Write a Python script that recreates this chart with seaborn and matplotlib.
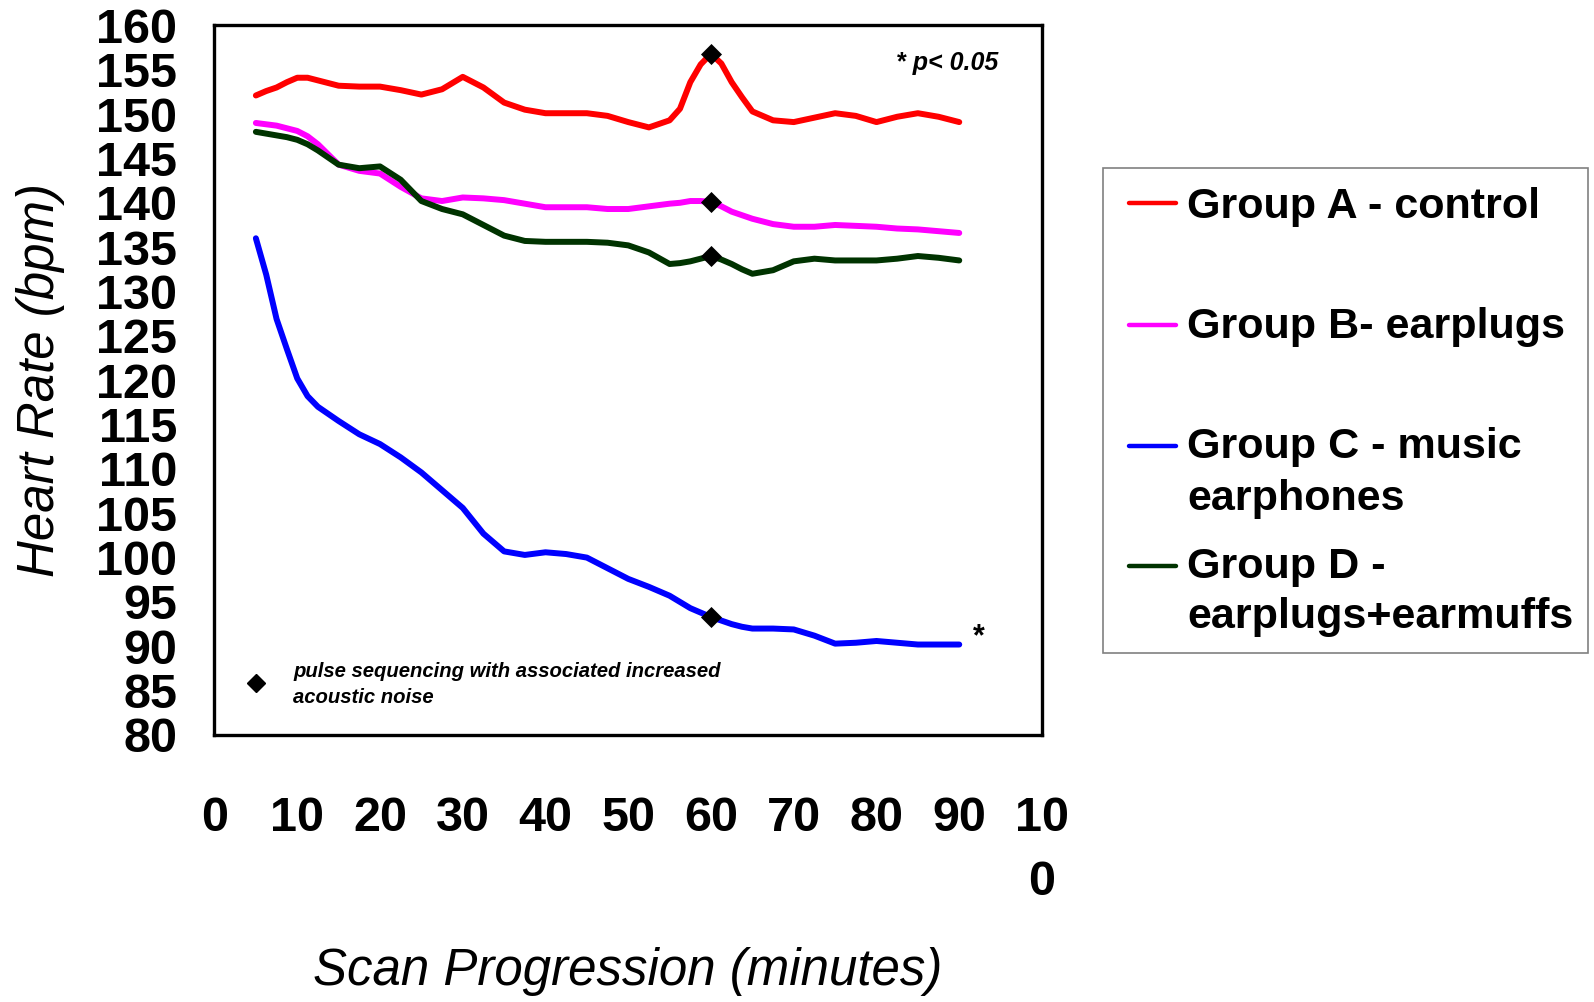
import pandas as pd
import matplotlib.pyplot as plt
from matplotlib.lines import Line2D
from matplotlib.patches import Rectangle
import seaborn as sns

# Heart rate (bpm); extra samples where the curves bend fast
minutes = [5, 6.25, 7.5, 8.75, 10, 11.25, 12.5, 15, 17.5, 20, 22.5, 25, 27.5, 30,
           32.5, 35, 37.5, 40, 42.5, 45, 47.5, 50, 52.5, 55, 56.25, 57.5, 58.75,
           60, 61.25, 62.5, 63.75, 65, 67.5, 70, 72.5, 75, 77.5, 80, 82.5, 85,
           87.5, 90]
group_a = [152.1, 152.6, 153.0, 153.6, 154.1, 154.1, 153.8, 153.2, 153.1, 153.1,
           152.7, 152.2, 152.8, 154.2, 153.0, 151.3, 150.5, 150.1, 150.1, 150.1,
           149.8, 149.1, 148.5, 149.3, 150.6, 153.6, 155.6, 156.8, 155.7, 153.6,
           151.9, 150.3, 149.3, 149.1, 149.6, 150.1, 149.8, 149.1, 149.7, 150.1,
           149.7, 149.1]
group_b = [149.0, 148.85, 148.7, 148.4, 148.1, 147.5, 146.6, 144.3, 143.6, 143.3,
           141.8, 140.5, 140.2, 140.6, 140.5, 140.3, 139.9, 139.5, 139.5, 139.5,
           139.3, 139.3, 139.6, 139.9, 140.0, 140.2, 140.2, 140.1, 139.6, 139.0,
           138.6, 138.2, 137.6, 137.3, 137.3, 137.5, 137.4, 137.3, 137.1, 137.0,
           136.8, 136.6]
group_c = [136.0, 131.9, 126.9, 123.5, 120.2, 118.2, 117.0, 115.4, 113.9, 112.8,
           111.3, 109.6, 107.6, 105.6, 102.7, 100.7, 100.3, 100.6, 100.4, 100.0,
           98.8, 97.6, 96.7, 95.7, 95.0, 94.3, 93.8, 93.3, 92.9, 92.5,
           92.2, 92.0, 92.0, 91.9, 91.2, 90.3, 90.4, 90.6, 90.4, 90.2,
           90.2, 90.2]
group_d = [148.0, 147.8, 147.6, 147.4, 147.1, 146.6, 145.9, 144.3, 143.9, 144.1,
           142.6, 140.2, 139.3, 138.7, 137.5, 136.3, 135.7, 135.6, 135.6, 135.6,
           135.5, 135.2, 134.4, 133.1, 133.2, 133.4, 133.7, 134.0, 133.6, 133.1,
           132.5, 132.0, 132.4, 133.4, 133.7, 133.5, 133.5, 133.5, 133.7, 134.0,
           133.8, 133.5]

groups = ['Group A - control', 'Group B- earplugs',
          'Group C - music earphones', 'Group D - earplugs+earmuffs']
legend_lines = [['Group A - control'], ['Group B- earplugs'],
                ['Group C - music', 'earphones'], ['Group D -', 'earplugs+earmuffs']]
colors = ['#FF0000', '#FF00FF', '#0000FF', '#003300']
pulse_minute = 60
x_ticks = [0, 10, 20, 30, 40, 50, 60, 70, 80, 90, 100]
x_tick_labels = ['0', '10', '20', '30', '40', '50', '60', '70', '80', '90', '10\n0']
y_ticks = [80, 85, 90, 95, 100, 105, 110, 115, 120, 125, 130, 135, 140, 145, 150, 155, 160]

df = pd.DataFrame({
    'minute': minutes * 4,
    'hr': group_a + group_b + group_c + group_d,
    'group': [g for g in groups for _ in minutes],
})

sns.set_style('white')
plt.rcParams['font.family'] = ['Liberation Sans', 'DejaVu Sans']
plt.rcParams['text.color'] = 'black'
plt.rcParams['xtick.color'] = 'black'
plt.rcParams['ytick.color'] = 'black'

W, H = 1594, 1002
fig = plt.figure(figsize=(W / 100, H / 100), dpi=100)


def fx(px):
    return px / W


def fy(py):
    return 1 - py / H


ax = fig.add_axes([fx(214.5), fy(735), fx(1042) - fx(214.5), fy(25.4) - fy(735)])

sns.lineplot(data=df, x='minute', y='hr', hue='group', palette=dict(zip(groups, colors)),
             linewidth=4.3, legend=False, ax=ax, estimator=None, sort=False,
             solid_capstyle='round', solid_joinstyle='round')
pulse = df[df['minute'] == pulse_minute]
sns.scatterplot(data=pulse, x='minute', y='hr', marker='D', color='black', s=115,
                linewidth=0, ax=ax, zorder=5, legend=False)

ax.set_xlim(0, 100)
ax.set_ylim(80, 160)
ax.set_xticks(x_ticks)
ax.set_xticklabels(x_tick_labels, fontsize=35, fontweight='bold',
                   linespacing=1.55, multialignment='center')
ax.set_yticks(y_ticks)
ax.set_yticklabels([str(v) for v in y_ticks], fontsize=35, fontweight='bold')
ax.tick_params(axis='y', direction='out', length=10.8, width=1.2, color='#333333', pad=16)
ax.tick_params(axis='x', direction='out', length=10.8, width=1.2, color='#333333', pad=33)
ax.set_xlabel('')
ax.set_ylabel('')
for s in ax.spines.values():
    s.set_visible(True)
    s.set_color('black')
    s.set_linewidth(2.4)

# annotations inside the plot
ax.text(82.4, 155, '* p< 0.05', fontsize=18, fontweight='bold', fontstyle='italic',
        va='baseline', ha='left')
ax.text(92.4, 90.15, '*', fontsize=22, fontweight='bold', va='baseline', ha='center')
ax.plot([5], [85.9], marker='D', color='black', markersize=9, linestyle='none')
ax.text(9.5, 83.6, 'pulse sequencing with associated increased\nacoustic noise',
        fontsize=14.6, fontweight='bold', fontstyle='italic', va='baseline',
        ha='left', linespacing=1.45)

# axis titles
fig.text(fx(41), fy(380), 'Heart Rate (bpm)', rotation=90, fontsize=36.7,
         fontstyle='italic', ha='center', va='center')
fig.text(fx(628), fy(971), 'Scan Progression (minutes)', fontsize=36.7,
         fontstyle='italic', ha='center', va='center')

# legend box
fig.patches.append(Rectangle((fx(1103), fy(653)), fx(1588) - fx(1103), fy(168) - fy(653),
                             transform=fig.transFigure, facecolor='white',
                             edgecolor='#808080', linewidth=1.2))
handle_y = [203, 325, 446, 566]
baselines = [[218], [338], [458, 510], [578, 628]]
for lines, c, hy, bl in zip(legend_lines, colors, handle_y, baselines):
    fig.lines.append(Line2D([fx(1129), fx(1176)], [fy(hy), fy(hy)], color=c, lw=3.2,
                            transform=fig.transFigure, solid_capstyle='round'))
    for t, b in zip(lines, bl):
        fig.text(fx(1187), fy(b), t, fontsize=31.1, fontweight='bold', va='baseline', ha='left')

fig.savefig('out.png', dpi=100)
